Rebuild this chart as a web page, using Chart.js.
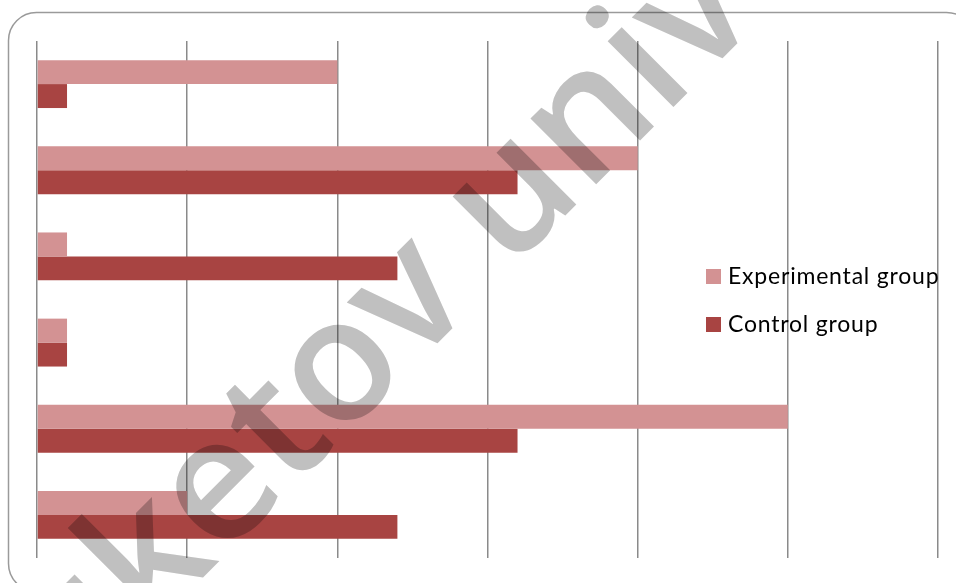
<!DOCTYPE html>
<html>
<head>
<meta charset="utf-8">
<script src="https://cdn.jsdelivr.net/npm/chart.js@4/dist/chart.umd.min.js"></script>
<style>
  html, body { margin: 0; padding: 0; background: #fff; }
  #wrap { width: 956px; height: 583px; position: relative; }
</style>
</head>
<body>
<div id="wrap"><canvas id="myChart"></canvas></div>
<script>
const categories = ['Category 1', 'Category 2', 'Category 3', 'Category 4', 'Category 5', 'Category 6'];
const experimental = [10, 20, 1, 1, 25, 5];
const control = [1, 16, 12, 1, 16, 12];
const seriesNames = ['Experimental group', 'Control group'];
const watermarkText = 'Buketov university';

// rounded frame around the whole chart
const framePlugin = {
  id: 'frame',
  beforeDraw(chart) {
    const ctx = chart.ctx;
    ctx.save();
    ctx.strokeStyle = '#9a9a9a';
    ctx.lineWidth = 1.5;
    ctx.beginPath();
    ctx.roundRect(8.5, 12.5, 966, 579, 28);
    ctx.stroke();
    ctx.restore();
  }
};

// legend drawn inside the plot, right side
const legendPlugin = {
  id: 'sideLegend',
  afterDatasetsDraw(chart) {
    const ctx = chart.ctx;
    ctx.save();
    ctx.font = '23px Lato';
    ctx.letterSpacing = '0.8px';
    ctx.textBaseline = 'middle';
    chart.data.datasets.forEach((ds, i) => {
      const y = 276 + i * 48;
      ctx.fillStyle = ds.backgroundColor;
      ctx.fillRect(706, y - 7, 15, 15);
      ctx.fillStyle = '#000';
      ctx.fillText(ds.label, 728, y + 1);
    });
    ctx.restore();
  }
};

// diagonal grey watermark, multiplied over everything
const watermarkPlugin = {
  id: 'watermark',
  afterDraw(chart) {
    const ctx = chart.ctx;
    ctx.save();
    ctx.globalCompositeOperation = 'multiply';
    ctx.fillStyle = 'rgb(192,192,192)';
    ctx.font = '600 172px "Open Sans"';
    ctx.textBaseline = 'middle';
    ctx.translate(335, 365);
    ctx.rotate(-Math.PI / 4);
    const pre = ctx.measureText('Buket').width;
    const ow = ctx.measureText('o').width;
    ctx.fillText(watermarkText, -pre - ow / 2, 8);
    ctx.restore();
  }
};

const ctx = document.getElementById('myChart').getContext('2d');

const data = {
  labels: categories,
  datasets: [
    {
      label: seriesNames[0],
      data: experimental,
      backgroundColor: 'rgb(211,146,147)',
      categoryPercentage: 0.556,
      barPercentage: 1.0
    },
    {
      label: seriesNames[1],
      data: control,
      backgroundColor: 'rgb(168,68,66)',
      categoryPercentage: 0.556,
      barPercentage: 1.0
    }
  ]
};

const config = {
  type: 'bar',
  data: data,
  options: {
    indexAxis: 'y',
    responsive: true,
    maintainAspectRatio: false,
    animation: false,
    layout: {
      padding: { left: 37, top: 41, right: 18, bottom: 25 }
    },
    plugins: {
      legend: { display: false },
      tooltip: { enabled: false }
    },
    scales: {
      x: {
        min: 0,
        max: 30,
        ticks: { display: false, stepSize: 5 },
        grid: { color: '#8a8a8a', lineWidth: 1.5, drawTicks: false },
        border: { display: false }
      },
      y: {
        display: false
      }
    }
  },
  plugins: [framePlugin, legendPlugin, watermarkPlugin]
};

new Chart(ctx, config);
</script>
</body>
</html>
